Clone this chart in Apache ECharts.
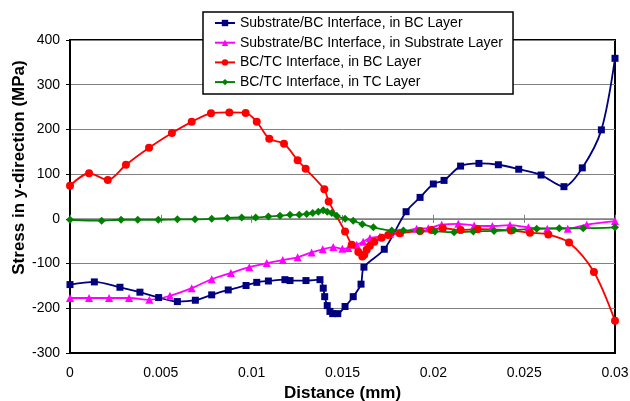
<!DOCTYPE html>
<html>
<head>
<meta charset="utf-8">
<script src="https://cdn.jsdelivr.net/npm/echarts@6/dist/echarts.min.js"></script>
<style>
html,body{margin:0;padding:0;background:#fff;}
#chart{width:630px;height:401px;}
</style>
</head>
<body>
<div id="chart"></div>
<script>
// ---- data ----
var seriesNames = [
  'Substrate/BC Interface, in BC Layer',
  'Substrate/BC Interface, in Substrate Layer',
  'BC/TC Interface, in BC Layer',
  'BC/TC Interface, in TC Layer'
];
var xTicks = [0, 0.005, 0.01, 0.015, 0.02, 0.025, 0.03];
var yTicks = [-300, -200, -100, 0, 100, 200, 300, 400];

var blueX = [0, 0.00134, 0.00275, 0.00385, 0.00488, 0.00591, 0.0069, 0.0078, 0.00871, 0.00969, 0.01028, 0.01092, 0.01183, 0.01211, 0.01299, 0.01376, 0.01394, 0.01402, 0.01416, 0.01431, 0.01446, 0.01474, 0.01514, 0.01559, 0.01602, 0.01618, 0.0173, 0.0185, 0.01927, 0.02, 0.02059, 0.0215, 0.02251, 0.02358, 0.0247, 0.02593, 0.02719, 0.0282, 0.02925, 0.03];
var blueY = [-147, -141, -153, -164, -176, -185, -182, -170, -159, -149, -142, -139, -136, -138, -138, -136, -155, -174, -194, -207, -212, -212, -196, -174, -146, -108, -68, 16, 48, 78, 86, 118, 124, 121, 111, 98, 72, 114, 199, 359];

var magX = [0, 0.00105, 0.00215, 0.00325, 0.00437, 0.0055, 0.0067, 0.0078, 0.00886, 0.00987, 0.01083, 0.01171, 0.01253, 0.0133, 0.01391, 0.01449, 0.01499, 0.01532, 0.01578, 0.01614, 0.01651, 0.01706, 0.01761, 0.01816, 0.01908, 0.01972, 0.02046, 0.02137, 0.02225, 0.02325, 0.02422, 0.02523, 0.02627, 0.0274, 0.02844, 0.03];
var magY = [-177, -177, -177, -177, -181, -172, -155, -135, -121, -108, -99, -92, -86, -75, -68, -63, -67, -65, -58, -51, -43, -40, -34, -30, -22, -21, -13, -11, -15, -16, -14, -19, -22, -22, -13, -5];

var redX = [0, 0.00105, 0.00208, 0.00308, 0.00435, 0.00561, 0.0067, 0.00776, 0.00877, 0.00967, 0.01028, 0.01097, 0.01178, 0.01253, 0.01297, 0.014, 0.01424, 0.01514, 0.01551, 0.01587, 0.01609, 0.0162, 0.01633, 0.01651, 0.01675, 0.01716, 0.01752, 0.01816, 0.01927, 0.0199, 0.02052, 0.0215, 0.02244, 0.02427, 0.02532, 0.02633, 0.02747, 0.02884, 0.03];
var redY = [74, 102, 87, 121, 159, 192, 217, 236, 238, 237, 217, 179, 168, 131, 112, 66, 39, -28, -58, -74, -84, -80, -69, -60, -51, -42, -36, -32, -27, -25, -21, -25, -23, -26, -31, -35, -53, -119, -228];

var greenX = [0, 0.00174, 0.00281, 0.00373, 0.00486, 0.00591, 0.00688, 0.0078, 0.00866, 0.00945, 0.01022, 0.01092, 0.01156, 0.01211, 0.01262, 0.01303, 0.01336, 0.01367, 0.01394, 0.01416, 0.01441, 0.01468, 0.01514, 0.01559, 0.01609, 0.0167, 0.01771, 0.01835, 0.01923, 0.02009, 0.02114, 0.0222, 0.02334, 0.02444, 0.02569, 0.02693, 0.02825, 0.03];
var greenY = [-2, -4, -2, -2, -2, -1, -1, 0, 2, 3, 3, 5, 7, 9, 9, 11, 13, 16, 19, 16, 13, 7, 0, -4, -12, -19, -26, -26, -28, -28, -30, -28, -27, -25, -22, -21, -21, -19];

// ---- build ----
function zip(xs, ys) { return xs.map(function (x, i) { return [x, ys[i]]; }); }
var FONT = 'Arial, "Liberation Sans", sans-serif';

function mkSeries(name, xs, ys, color, symbol, size) {
  return {
    name: name, type: 'line', xAxisIndex: 0, yAxisIndex: 0,
    data: zip(xs, ys), smooth: 0.3, symbol: symbol, symbolSize: size,
    showAllSymbol: true,
    lineStyle: { color: color, width: 1.8 },
    itemStyle: { color: color, borderWidth: 0 },
    emphasis: { disabled: true }, animation: false
  };
}

var chart = echarts.init(document.getElementById('chart'), null, { renderer: 'canvas' });
var xAxisBase = { type: 'value', min: xTicks[0], max: xTicks[xTicks.length - 1], interval: xTicks[1] - xTicks[0] };
chart.setOption({
  animation: false,
  backgroundColor: '#fff',
  textStyle: { fontFamily: FONT },
  grid: { left: 70, right: 15, top: 40, bottom: 48, containLabel: false, outerBoundsMode: 'none',
    show: true, borderColor: '#000', borderWidth: 2, backgroundColor: '#fff' },
  legend: {
    orient: 'vertical', left: 203, top: 12,
    padding: [4, 10, 5, 11], itemGap: 5.7, itemWidth: 20, itemHeight: 8,
    backgroundColor: '#fff', borderColor: '#000', borderWidth: 1.5,
    textStyle: { fontSize: 14, color: '#000', fontFamily: FONT, lineHeight: 14 },
    data: seriesNames
  },
  xAxis: [
    Object.assign({}, xAxisBase, {
      position: 'bottom',
      axisLine: { onZero: false, show: true, lineStyle: { color: '#000', width: 2 } },
      axisTick: { show: false },
      splitLine: { show: false },
      axisLabel: { margin: 13, fontSize: 14, color: '#000', fontFamily: FONT,
        formatter: function (v) { return String(+v.toFixed(3)); } },
      name: 'Distance (mm)', nameLocation: 'middle', nameGap: 31,
      nameTextStyle: { fontSize: 17, fontWeight: 'bold', color: '#000', fontFamily: FONT }
    }),
    Object.assign({}, xAxisBase, {
      position: 'bottom',
      axisLine: { onZero: true, onZeroAxisIndex: 0, show: true, lineStyle: { color: '#808080', width: 1.5 } },
      axisTick: { show: true, inside: false, length: 4, lineStyle: { color: '#808080', width: 1 } },
      axisLabel: { show: false }, splitLine: { show: false }
    }),
    Object.assign({}, xAxisBase, {
      position: 'bottom',
      axisLine: { onZero: true, onZeroAxisIndex: 0, show: false },
      axisTick: { show: true, inside: true, length: 4, lineStyle: { color: '#808080', width: 1 } },
      axisLabel: { show: false }, splitLine: { show: false }
    })
  ],
  yAxis: {
    type: 'value', min: yTicks[0], max: yTicks[yTicks.length - 1], interval: 100,
    axisLine: { onZero: false, show: true, lineStyle: { color: '#000', width: 2 } },
    axisTick: { show: true, length: 4, lineStyle: { color: '#000', width: 1 } },
    axisLabel: { margin: 10, fontSize: 14, color: '#000', fontFamily: FONT },
    splitLine: { show: true, lineStyle: { color: '#808080', width: 1 } }
  },
  graphic: [{
    type: 'text', x: 19.5, y: 167.5, rotation: Math.PI / 2, silent: true,
    style: { text: 'Stress in y-direction (MPa)', font: 'bold 17px ' + FONT, fill: '#000',
      align: 'center', verticalAlign: 'middle', textAlign: 'center', textVerticalAlign: 'middle' }
  }],
  series: [
    mkSeries(seriesNames[0], blueX, blueY, '#000080', 'rect', 7),
    mkSeries(seriesNames[1], magX, magY, '#ff00ff', 'triangle', 8),
    mkSeries(seriesNames[2], redX, redY, '#ff0000', 'circle', 8),
    mkSeries(seriesNames[3], greenX, greenY, '#008000', 'diamond', 8)
  ]
});
</script>
</body>
</html>
